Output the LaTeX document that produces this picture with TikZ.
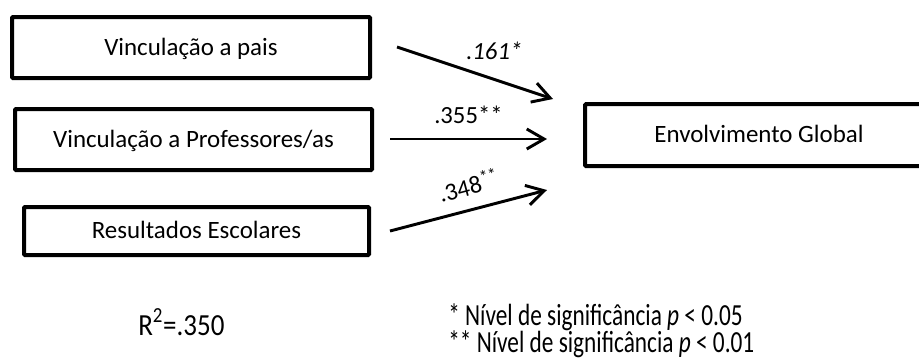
\documentclass[tikz,border=0pt]{standalone}
\usepackage{fontspec}
\setmainfont{Carlito}
\newfontfamily\rfont{Carlito}[FakeStretch=0.88]
\newfontfamily\notefont{Carlito}[FakeStretch=0.76]
\usetikzlibrary{arrows.meta}

\tikzset{
  varbox/.style={draw=black, line width=3pt, rounded corners=0.8pt, inner sep=0pt,
    text height=11.8pt, text depth=0pt,
    font=\fontsize{18.7}{22}\selectfont},
  path/.style={line width=2.2pt, -{Straight Barb[length=13pt, width=15pt, line width=2.2pt]}},
  coef/.style={inner sep=0pt, anchor=base west, font=\fontsize{18.5}{22}\selectfont},
  note/.style={inner sep=0pt, anchor=base west, font=\notefont\fontsize{23}{26}\selectfont}
}

\begin{document}
\begin{tikzpicture}[x=0.75pt, y=-0.75pt]
  \useasboundingbox (0,0) rectangle (919,358);
  \clip (0,0) rectangle (919,358);

  % predictors
  \node[varbox, minimum width=268.5pt, minimum height=45.75pt] (pais) at (191,47.5) {Vinculação a pais};
  \node[varbox, minimum width=267.75pt, minimum height=45.75pt] (prof) at (193.5,139.5) {Vinculação a Professores/as};
  \node[varbox, minimum width=258.75pt, minimum height=36pt] (res) at (196.5,231) {Resultados Escolares};

  % outcome
  \node[varbox, minimum width=261pt, minimum height=46.5pt] (env) at (759,135) {Envolvimento Global};

  % regression paths
  \coordinate (a1s) at (397,47);  \coordinate (a1e) at (553,99);
  \coordinate (a2s) at (390,139); \coordinate (a2e) at (547,139);
  \coordinate (a3s) at (390,231); \coordinate (a3e) at (547,190);
  \draw[path] (a1s) -- (a1e);
  \draw[path] (a2s) -- (a2e);
  \draw[path] (a3s) -- (a3e);

  % coefficients
  \node[coef] (c1) at (466,59) {\itshape .161*};
  \node[coef] (c2) at (434,123) {.355**};
  \node[coef, rotate=15] (c3) at (441,203) {.348\textsuperscript{**}};

  % explained variance and significance notes
  \node[inner sep=0pt, anchor=base west, font=\rfont\fontsize{23}{26}\selectfont] (r2) at (138,335) {R\textsuperscript{2}=.350};
  \node[note] (n1) at (448,325) {* Nível de significância \textit{p} < 0.05};
  \node[note] (n2) at (448,352) {** Nível de significância \textit{p} < 0.01};
\end{tikzpicture}
\end{document}
